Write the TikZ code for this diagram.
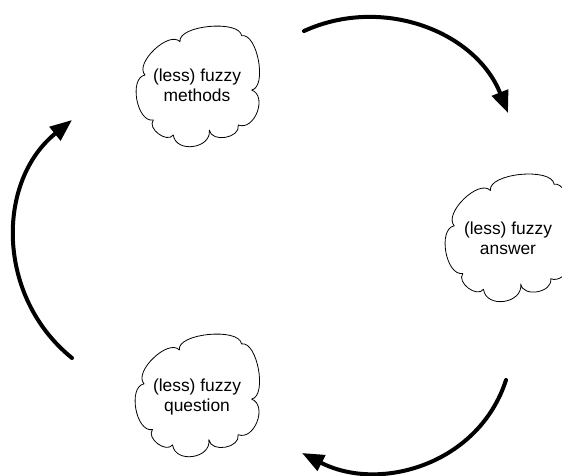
\documentclass[tikz,border=0pt]{standalone}
\usepackage{fontspec}
\setmainfont{Liberation Sans}
\usetikzlibrary{arrows.meta}

% outline of a cloud in a 120 x 120 box (y grows downwards), eight puffs
\newcommand\cloudoutline{%
  (8,48) .. controls (-3,36.4) and (32,3.1) .. (43,14.7)
  .. controls (40.5,-1.6) and (102.2,-7.6) .. (104.7,8.7)
  .. controls (120.4,5.8) and (130.4,60.1) .. (114.7,63)
  .. controls (130.9,69.2) and (117.5,104.2) .. (101.3,98)
  .. controls (103.6,111.1) and (74.6,116.1) .. (72.3,103)
  .. controls (74.8,121.6) and (38.8,126.6) .. (36.3,108)
  .. controls (29.9,116.5) and (9.9,101.5) .. (16.3,93)
  .. controls (-0.1,96) and (-8.4,51) .. (8,48) -- cycle}

\tikzset{
  cloudline/.style={draw=black, line width=0.8pt, line join=round},
  cloudtext/.style={font=\fontsize{17.4}{19.5}\selectfont, align=center,
    inner sep=0pt, anchor=north},
  cyclearrow/.style={line width=4pt, line cap=round,
    -{Triangle[length=22pt,width=17pt]}},
}

\begin{document}
\begin{tikzpicture}[x=1pt, y=-1pt]
  \useasboundingbox (0,0) rectangle (562,475);

  % the three clouds and their texts
  \node[cloudtext] (methods)  at (197,69)  {(less) fuzzy\\methods};
  \node[cloudtext] (answer)   at (508,222) {(less) fuzzy\\answer};
  \node[cloudtext] (question) at (197,379) {(less) fuzzy\\question};

  \begin{scope}[shift={(137,27)}]
    \draw[cloudline] \cloudoutline;
  \end{scope}
  \begin{scope}[shift={(446,175)}, xscale=1.033, yscale=1.058]
    \draw[cloudline] \cloudoutline;
  \end{scope}
  \begin{scope}[shift={(136,335)}, xscale=1.008, yscale=1.017]
    \draw[cloudline] \cloudoutline;
  \end{scope}

  % the cycle of curved arrows
  \coordinate (a1s) at (304,31);
  \coordinate (a1e) at (508,113);
  \coordinate (a2s) at (506,380);
  \coordinate (a2e) at (302,453);
  \coordinate (a3s) at (72,358);
  \coordinate (a3e) at (72,120);
  \draw[cyclearrow] (a1s) .. controls (383,-5) and (476,32) .. (a1e);
  \draw[cyclearrow] (a2s) .. controls (479,464) and (380,493) .. (a2e);
  \draw[cyclearrow] (a3s) .. controls (-4,296.6) and (-4,181.4) .. (a3e);
\end{tikzpicture}
\end{document}
